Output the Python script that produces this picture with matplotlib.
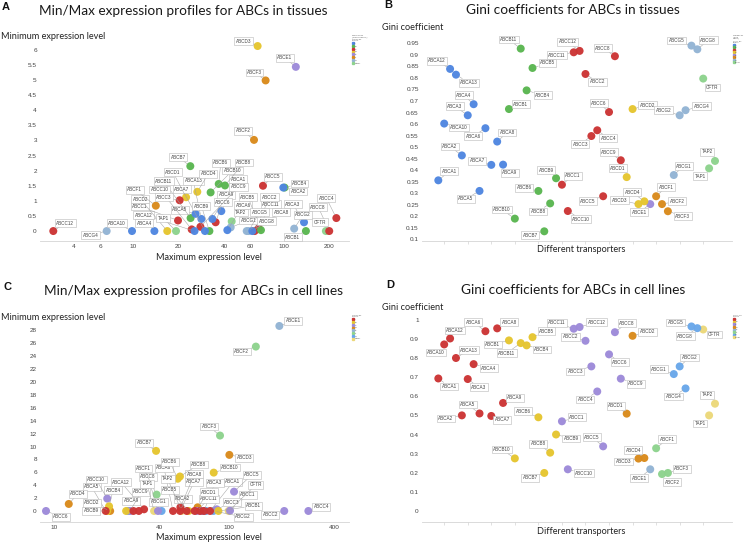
import numpy as np
import matplotlib
matplotlib.use('Agg')
import matplotlib.pyplot as plt
from matplotlib.lines import Line2D
from matplotlib.ticker import NullLocator

# ---------------- data ----------------
names = ['ABCA1', 'ABCA10', 'ABCA12', 'ABCA13', 'ABCA2', 'ABCA3', 'ABCA4', 'ABCA5', 'ABCA6', 'ABCA7',
         'ABCA8', 'ABCA9', 'ABCB1', 'ABCB10', 'ABCB11', 'ABCB4', 'ABCB5', 'ABCB6', 'ABCB7', 'ABCB8',
         'ABCB9', 'ABCC1', 'ABCC10', 'ABCC11', 'ABCC12', 'ABCC2', 'ABCC3', 'ABCC4', 'ABCC5', 'ABCC6',
         'ABCC8', 'ABCC9', 'ABCD1', 'ABCD2', 'ABCD3', 'ABCD4', 'ABCE1', 'ABCF1', 'ABCF2', 'ABCF3',
         'ABCG1', 'ABCG2', 'ABCG4', 'ABCG5', 'ABCG8', 'CFTR', 'TAP1', 'TAP2']

tissue_max = [38.4, 9.8, 25.5, 28.3, 99.1, 136, 13.8, 25.9, 42.1, 29.9, 61.7, 33.5,
              140, 32.6, 24.0, 101, 70.4, 36.9, 23.9, 40.6, 32.0,
              19.8, 24.4, 68.0, 2.94, 63.9, 20.3, 223, 72.6, 35.2, 200, 27.9,
              22.4, 16.8, 66.9, 26.6, 120, 14.1, 63.3, 75.6,
              44.3, 117, 6.65, 58.3, 56.6, 190, 19.2, 45.0]
tissue_min = [0.66, 0, 0, 0.40, 1.44, 0.29, 0, 0.57, 0.03, 0, 0, 0.40,
              0, 1.28, 0.43, 1.44, 0.03, 1.56, 2.15, 1.51, 0,
              0.35, 0.055, 0.09, 0, 0, 1.02, 0.43, 1.50, 0.29, 0, 0.14,
              1.12, 0, 6.13, 1.30, 5.44, 0.84, 3.02, 4.99,
              0.12, 0.08, 0, 0, 0, 0, 0, 0.32]
tissue_gini = [0.356, 0.602, 0.839, 0.814, 0.464, 0.638, 0.686, 0.310, 0.582, 0.423, 0.524, 0.424,
               0.665, 0.190, 0.927, 0.746, 0.843, 0.310, 0.135, 0.256, 0.365,
               0.337, 0.223, 0.911, 0.917, 0.817, 0.548, 0.573, 0.287, 0.652, 0.894, 0.443,
               0.370, 0.665, 0.253, 0.265, 0.253, 0.287, 0.253, 0.222,
               0.379, 0.638, 0.660, 0.940, 0.924, 0.797, 0.408, 0.440]

cell_max = [78.1, 30.5, 32.7, 63.8, 57.4, 72.1, 68.4, 19.7, 47.9, 52.6, 52.8, 28.4,
            87.2, 82.0, 25.8, 20.6, 58.9, 51.0, 38.3, 52.5, 20.1,
            101.7, 20.1, 65.5, 69.5, 208, 85.3, 286, 107.2, 8.96, 39.3, 27.2,
            66.3, 20.9, 100.8, 12.1, 195, 38.6, 143, 89.1,
            41.2, 81.6, 26.5, 70.6, 74.1, 99.9, 37.3, 53.7]
cell_min = [0, 0, 0.26, 0, 0, 0, 0, 0, 0, 0, 0.57, 0,
            0, 5.95, 0, 0.72, 0, 5.0, 9.32, 5.35, 0,
            0.05, 1.92, 0, 0, 0, 0.26, 0, 3.0, 0, 0, 0,
            0.57, 0, 8.7, 1.09, 28.7, 2.54, 25.5, 11.7,
            0, 0, 0, 0, 0, 0, 0, 0]
cell_gini = [0.693, 0.871, 0.902, 0.800, 0.500, 0.690, 0.768, 0.510, 0.940, 0.497, 0.955, 0.565,
             0.892, 0.275, 0.878, 0.866, 0.909, 0.490, 0.199, 0.305, 0.400,
             0.469, 0.218, 0.953, 0.962, 0.890, 0.756, 0.625, 0.338, 0.819, 0.935, 0.692,
             0.509, 0.916, 0.274, 0.277, 0.218, 0.328, 0.193, 0.199,
             0.716, 0.756, 0.641, 0.965, 0.956, 0.949, 0.500, 0.561]

families = ['A', 'B', 'C', 'D', 'E', 'F', 'G', 'Other']
tissue_colors = ['#4f86e0', '#5ab650', '#cc3434', '#e6c52f', '#9d8ad9', '#d98a1c', '#93b4d4', '#8ed38e']
cell_colors = ['#cc3434', '#e6c52f', '#9d8ad9', '#d98a1c', '#93b4d4', '#8ed38e', '#69a7ea', '#ecd87a']

tissue_xticks = [4, 6, 10, 20, 40, 60, 100, 200]
tissue_yticks = list(np.arange(0, 6.01, 0.5))
cell_xticks = [10, 40, 100, 400]
cell_yticks = list(range(0, 29, 2))
gini_b_ticks = list(np.round(np.arange(0.10, 0.951, 0.05), 2))
gini_d_ticks = list(np.round(np.arange(0, 1.01, 0.1), 1))

# ---------------- label placement (pixels, dy up) ----------------
offs_A = {'ABCA1': (17, 32), 'ABCA10': (-15, 8), 'ABCA12': (-51, 16), 'ABCA13': (-8, 38), 'ABCA2': (15, -4),
          'ABCA3': (-11, 18), 'ABCA4': (-10, 8), 'ABCA5': (-16, 4), 'ABCA6': (16, 25), 'ABCA7': (-23, 42),
          'ABCA8': (29, 19), 'ABCA9': (14, 24), 'ABCB1': (-13, -6), 'ABCB10': (22, 22), 'ABCB11': (-27, 37),
          'ABCB4': (15, 4), 'ABCB5': (-13, 33), 'ABCB6': (2, 21), 'ABCB7': (-12, 9), 'ABCB8': (19, 23),
          'ABCB9': (-8, 25), 'ABCC1': (-38, 14), 'ABCC10': (-32, 40), 'ABCC11': (12, 24), 'ABCC12': (12, 8),
          'ABCC2': (15, 34), 'ABCC3': (-16, 3), 'ABCC4': (-10, 20), 'ABCC5': (10, 9), 'ABCC6': (7, 20),
          'ABCC8': (-11, 24), 'ABCC9': (38, 40), 'ABCD1': (-13, 25), 'ABCD2': (-27, 32), 'ABCD3': (-14, 5),
          'ABCD4': (11, 18), 'ABCE1': (-11, 9), 'ABCF1': (-21, 16), 'ABCF2': (-11, 9), 'ABCF3': (-11, 8),
          'ABCG1': (18, 7), 'ABCG2': (9, 14), 'ABCG4': (-16, -4), 'ABCG5': (11, 19), 'ABCG8': (20, 10),
          'CFTR': (-6, 9), 'TAP1': (-13, 13), 'TAP2': (9, 9)}
offs_B = {'ABCA1': (11, 9), 'ABCA10': (15, -4), 'ABCA12': (-13, 8), 'ABCA13': (13, -8), 'ABCA2': (-12, 9),
          'ABCA3': (-13, 9), 'ABCA4': (-10, 9), 'ABCA5': (-14, -8), 'ABCA6': (-12, -8), 'ABCA7': (-14, 4),
          'ABCA8': (10, 9), 'ABCA9': (7, -8), 'ABCB1': (12, 5), 'ABCB10': (-13, 9), 'ABCB11': (-12, 9),
          'ABCB4': (16, -5), 'ABCB5': (15, 5), 'ABCB6': (-14, 3), 'ABCB7': (-14, -4), 'ABCB8': (-12, -8),
          'ABCB9': (-10, 8), 'ABCC1': (11, 9), 'ABCC10': (13, -8), 'ABCC11': (-17, -3), 'ABCC12': (-12, 9),
          'ABCC2': (12, -8), 'ABCC3': (-11, -8), 'ABCC4': (11, -8), 'ABCC5': (-15, -5), 'ABCC6': (-10, 9),
          'ABCC8': (-12, 8), 'ABCC9': (-12, 8), 'ABCD1': (-9, 9), 'ABCD2': (15, 4), 'ABCD3': (-19, 4),
          'ABCD4': (-12, 9), 'ABCE1': (-11, -8), 'ABCF1': (10, 9), 'ABCF2': (15, 3), 'ABCF3': (15, -5),
          'ABCG1': (10, 9), 'ABCG2': (-16, 5), 'ABCG4': (16, 4), 'ABCG5': (-15, 5), 'ABCG8': (11, 9),
          'CFTR': (9, -9), 'TAP1': (-9, -8), 'TAP2': (-8, 9)}
offs_C = {'ABCA1': (23, 29), 'ABCA12': (-23, 27), 'ABCA2': (-4, 12), 'ABCA3': (11, 28), 'ABCA5': (-14, 24),
          'ABCA6': (-9, 43), 'ABCA7': (14, 29), 'ABCA8': (14, 33), 'ABCA9': (-2, 10), 'ABCB1': (35, 5),
          'ABCB10': (16, 5), 'ABCB4': (4, 16), 'ABCB5': (-19, 21), 'ABCB6': (-8, 17), 'ABCB7': (-12, 8),
          'ABCB8': (19, 12), 'ABCB9': (-16, 0), 'ABCC1': (18, 16), 'ABCC10': (-11, 19), 'ABCC11': (12, 12),
          'ABCC2': (-14, -4), 'ABCC3': (15, 7), 'ABCC4': (13, 4), 'ABCC5': (18, 17), 'ABCC6': (15, -6),
          'ABCC8': (-10, 34), 'ABCC9': (11, 19), 'ABCD1': (11, 15), 'ABCD2': (-18, 8), 'ABCD3': (15, -3),
          'ABCD4': (9, 10), 'ABCE1': (14, 5), 'ABCF1': (-13, 26), 'ABCF2': (-14, -5), 'ABCF3': (-11, 9),
          'ABCG1': (-3, 9), 'ABCG2': (30, -6), 'CFTR': (27, 26), 'TAP1': (-7, 27), 'TAP2': (-14, 32)}
offs_D = {'ABCA1': (11, -8), 'ABCA10': (-8, -8), 'ABCA12': (5, 8), 'ABCA13': (13, 8), 'ABCA2': (-16, -3),
          'ABCA3': (11, -8), 'ABCA4': (15, -4), 'ABCA5': (-12, 9), 'ABCA6': (-12, 9), 'ABCA7': (11, -4),
          'ABCA8': (12, 6), 'ABCA9': (12, 5), 'ABCB1': (-16, -4), 'ABCB10': (-13, 9), 'ABCB11': (-14, -10),
          'ABCB4': (15, -4), 'ABCB5': (14, 6), 'ABCB6': (-15, 6), 'ABCB7': (-14, -5), 'ABCB8': (-12, 9),
          'ABCB9': (15, -4), 'ABCC1': (15, 4), 'ABCC10': (16, -4), 'ABCC11': (-17, 6), 'ABCC12': (17, 5),
          'ABCC2': (-15, 4), 'ABCC3': (-16, -5), 'ABCC4': (-12, -8), 'ABCC5': (-11, 9), 'ABCC6': (11, -8),
          'ABCC8': (12, 9), 'ABCC9': (15, -5), 'ABCD1': (-11, 8), 'ABCD2': (15, 4), 'ABCD3': (-15, -3),
          'ABCD4': (-11, 8), 'ABCE1': (-11, -9), 'ABCF1': (11, 9), 'ABCF2': (10, -8), 'ABCF3': (14, 4),
          'ABCG1': (-15, 5), 'ABCG2': (10, 9), 'ABCG4': (-12, -8), 'ABCG5': (-16, 4), 'ABCG8': (-12, -8),
          'CFTR': (11, -5), 'TAP1': (-9, -8), 'TAP2': (-8, 9)}

# ---------------- figure ----------------
W, H = 748, 544
fig = plt.figure(figsize=(W / 100, H / 100), dpi=100)
TFONT = ['Lato', 'DejaVu Sans']
NFONT = ['Liberation Sans', 'DejaVu Sans']


def px_axes(x0, y0, x1, y1):
    return fig.add_axes([x0 / W, 1 - y1 / H, (x1 - x0) / W, (y1 - y0) / H])


def ftext(x, y, s, **kw):
    fig.text(x / W, 1 - y / H, s, **kw)


def family(n):
    return n[3] if n.startswith('ABC') else 'Other'


def style(ax, xtick_len=0):
    for s in ['top', 'right', 'left']:
        ax.spines[s].set_visible(False)
    ax.spines['bottom'].set_color('#d4d4d4')
    ax.spines['bottom'].set_linewidth(0.6)
    ax.tick_params(axis='y', length=0, pad=2.5, labelsize=4.6, labelcolor='#444444')
    ax.tick_params(axis='x', length=xtick_len, width=0.4, color='#c8c8c8', pad=2,
                   labelsize=4.6, labelcolor='#444444')
    for lab in ax.get_xticklabels() + ax.get_yticklabels():
        lab.set_family(NFONT)


def draw_points(ax, xs, ys, colors):
    cmap = dict(zip(families, colors))
    cols = [cmap[family(n)] for n in names]
    idx = list(range(len(names)))[::-1]
    ax.scatter([xs[i] for i in idx], [ys[i] for i in idx], s=33, c=[cols[i] for i in idx],
               linewidths=0, alpha=0.97, zorder=3, clip_on=False)


def draw_labels(ax, xs, ys, offs):
    for x, y, n in zip(xs, ys, names):
        off = offs.get(n)
        if off is None:
            continue
        dx, dy = off
        ap = None
        if np.hypot(dx, dy) > 13:
            ap = dict(arrowstyle='-', color='#a0a0a0', lw=0.35, shrinkA=0, shrinkB=2.5)
        ax.annotate(n, (x, y), xytext=(dx, dy), textcoords='offset pixels', ha='center', va='center',
                    fontsize=3.3, color='#444444', family=NFONT,
                    bbox=dict(boxstyle='square,pad=0.3', fc='white', ec='#b8b8b8', lw=0.4),
                    arrowprops=ap, zorder=5, annotation_clip=False)


def draw_legend(colors, x, y, title, fs):
    handles = [Line2D([], [], marker='s', ls='', color=c, markersize=1.4) for c in colors]
    leg = fig.legend(handles, families, loc='upper left', bbox_to_anchor=(x / W, 1 - y / H),
                     fontsize=fs, title=title, title_fontsize=fs, frameon=False,
                     handlelength=0.6, handletextpad=0.5, labelspacing=0.55, borderpad=0,
                     borderaxespad=0)
    leg._legend_box.align = 'left'
    for t in leg.get_texts():
        t.set_color('#555555')
    leg.get_title().set_color('#555555')


# ----- Panel A -----
axA = px_axes(40.3, 40, 349, 241)
axA.set_xscale('log')
draw_points(axA, tissue_max, tissue_min, tissue_colors)
draw_labels(axA, tissue_max, tissue_min, offs_A)
axA.set_xlim(2.41, 270.6)
axA.set_ylim(-0.33, 6.33)
axA.set_xticks(tissue_xticks)
axA.set_xticklabels([str(t) for t in tissue_xticks])
axA.xaxis.set_minor_locator(NullLocator())
axA.set_yticks(tissue_yticks)
axA.set_yticklabels(['%g' % t for t in tissue_yticks])
style(axA)

# ----- Panel B -----
axB = px_axes(422.3, 38, 732.3, 241)
xi = np.arange(len(names))
draw_points(axB, xi, tissue_gini, tissue_colors)
draw_labels(axB, xi, tissue_gini, offs_B)
axB.set_xlim(-2.72, 49.94)
axB.set_ylim(0.093, 0.973)
axB.set_xticks(list(range(1, 48, 4)))
axB.set_xticklabels([])
axB.set_yticks(gini_b_ticks)
axB.set_yticklabels(['%g' % t for t in gini_b_ticks])
style(axB, xtick_len=2)

# ----- Panel C -----
axC = px_axes(40.3, 315, 349, 522)
axC.set_xscale('log')
draw_points(axC, cell_max, cell_min, cell_colors)
draw_labels(axC, cell_max, cell_min, offs_C)
axC.set_xlim(8.31, 489)
axC.set_ylim(-1.71, 30.4)
axC.set_xticks(cell_xticks)
axC.set_xticklabels([str(t) for t in cell_xticks])
axC.xaxis.set_minor_locator(NullLocator())
axC.set_yticks(cell_yticks)
axC.set_yticklabels([str(t) for t in cell_yticks])
style(axC)

# ----- Panel D -----
axD = px_axes(422.3, 310, 732.3, 522)
draw_points(axD, xi, cell_gini, cell_colors)
draw_labels(axD, xi, cell_gini, offs_D)
axD.set_xlim(-2.72, 49.94)
axD.set_ylim(-0.0575, 1.051)
axD.set_xticks(list(range(1, 48, 4)))
axD.set_xticklabels([])
axD.set_yticks(gini_d_ticks)
axD.set_yticklabels(['%g' % t for t in gini_d_ticks])
style(axD, xtick_len=2)

# ----- legends -----
draw_legend(tissue_colors, 352, 35, 'Marker by\n(Gene family)\n\nColor by\nFamily', 1.6)
draw_legend(tissue_colors, 733, 35, 'Marker by\n(Gene\nfamily)\n\nColor by\nFamily', 1.45)
draw_legend(cell_colors, 352, 315, 'Color by\nFamily', 1.6)
draw_legend(cell_colors, 733, 315, 'Color by\nFamily', 1.5)

# ----- texts -----
tkw = dict(family=TFONT, color='#1a1a1a', ha='center', va='center')
ftext(183.7, 10.7, 'Min/Max expression profiles for ABCs in tissues', fontsize=9.8, **tkw)
ftext(572.8, 10.5, 'Gini coefficients for ABCs in tissues', fontsize=9.8, **tkw)
ftext(194, 290.7, 'Min/Max expression profiles for ABCs in cell lines', fontsize=9.8, **tkw)
ftext(572.7, 290, 'Gini coefficients for ABCs in cell lines', fontsize=9.8, **tkw)

akw = dict(family=TFONT, color='#222222', va='center')
ftext(1, 36.7, 'Minimum expression level', fontsize=6.6, ha='left', **akw)
ftext(382, 27.7, 'Gini coefficient', fontsize=6.6, ha='left', **akw)
ftext(1, 317, 'Minimum expression level', fontsize=6.6, ha='left', **akw)
ftext(382, 307.7, 'Gini coefficient', fontsize=6.6, ha='left', **akw)
ftext(209, 257, 'Maximum expression level', fontsize=6.6, ha='center', **akw)
ftext(581, 250, 'Different transporters', fontsize=6.6, ha='center', **akw)
ftext(208.7, 537.7, 'Maximum expression level', fontsize=6.6, ha='center', **akw)
ftext(581, 531, 'Different transporters', fontsize=6.6, ha='center', **akw)

lkw = dict(family=NFONT, fontweight='bold', color='#111111', va='center', ha='left', fontsize=8)
ftext(2, 6.5, 'A', **lkw)
ftext(384, 5.5, 'B', **lkw)
ftext(3, 286.5, 'C', **lkw)
ftext(386, 285, 'D', **lkw)

fig.savefig('out.png', dpi=100)
